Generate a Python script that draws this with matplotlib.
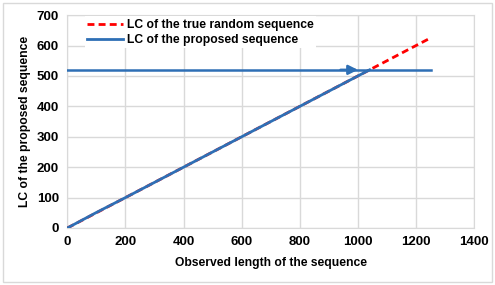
import matplotlib
matplotlib.use('Agg')
from matplotlib import pyplot as plt
from matplotlib.patches import Rectangle

plt.rcParams['font.family'] = ['Liberation Sans', 'DejaVu Sans']
plt.rcParams['font.weight'] = 'bold'

# observed length vs linear complexity
random_len = [0, 100, 200, 300, 400, 500, 600, 700, 800, 900, 1000, 1100, 1200, 1250]
random_lc = [0, 50, 100, 150, 200, 250, 300, 350, 400, 450, 500, 550, 600, 625]

proposed_len = [0, 100, 200, 300, 400, 500, 600, 700, 800, 900, 1000, 1040]
proposed_lc = [0, 51, 100, 150, 200, 250, 300, 350, 400, 450, 500, 520]

level = 520
level_end = 1250
arrow_tip = 1000

blue = '#2E6FB5'
fig = plt.figure(figsize=(4.95, 2.85), dpi=100)
ax = fig.add_axes([0.136, 0.2, 0.822, 0.747])

ax.plot(random_len, random_lc, color='red', linestyle=(0, (2.5, 1.5)), linewidth=2,
        label='LC of the true random sequence', zorder=3)
ax.plot(proposed_len, proposed_lc, color=blue, linewidth=2,
        label='LC of the proposed sequence', zorder=4)
ax.plot([0, level_end], [level, level], color=blue, linewidth=1.8, zorder=4)
ax.annotate('', xy=(arrow_tip, level), xytext=(arrow_tip - 60, level),
            arrowprops=dict(arrowstyle='-|>', color=blue, lw=1.8,
                            mutation_scale=14, shrinkA=0, shrinkB=0), zorder=5)

ax.set_xlim(0, 1400)
ax.set_ylim(0, 700)
ax.set_xticks(range(0, 1401, 200))
ax.set_yticks(range(0, 701, 100))
ax.grid(True, color='#d9d9d9', linewidth=1)
ax.set_axisbelow(True)
for s in ax.spines.values():
    s.set_color('#d9d9d9')
ax.tick_params(length=0, labelsize=9.5, pad=6)
for lab in ax.get_xticklabels() + ax.get_yticklabels():
    lab.set_fontweight('bold')
ax.set_xlabel('Observed length of the sequence', fontsize=8.7, fontweight='bold', labelpad=6)
ax.set_ylabel('LC of the proposed sequence', fontsize=8.7, fontweight='bold', labelpad=4)

leg = ax.legend(loc='upper left', bbox_to_anchor=(0.04, 1.0), fontsize=8.7, frameon=True,
                fancybox=False, edgecolor='none', framealpha=1, borderaxespad=0.1,
                handlelength=3.0, handletextpad=0.3, labelspacing=0.25, borderpad=0.2)
for t in leg.get_texts():
    t.set_fontweight('bold')

fig.patches.append(Rectangle((0.006, 0.01), 0.988, 0.98, transform=fig.transFigure,
                             fill=False, edgecolor='#d9d9d9', linewidth=1))

fig.savefig('out.png', dpi=100)
